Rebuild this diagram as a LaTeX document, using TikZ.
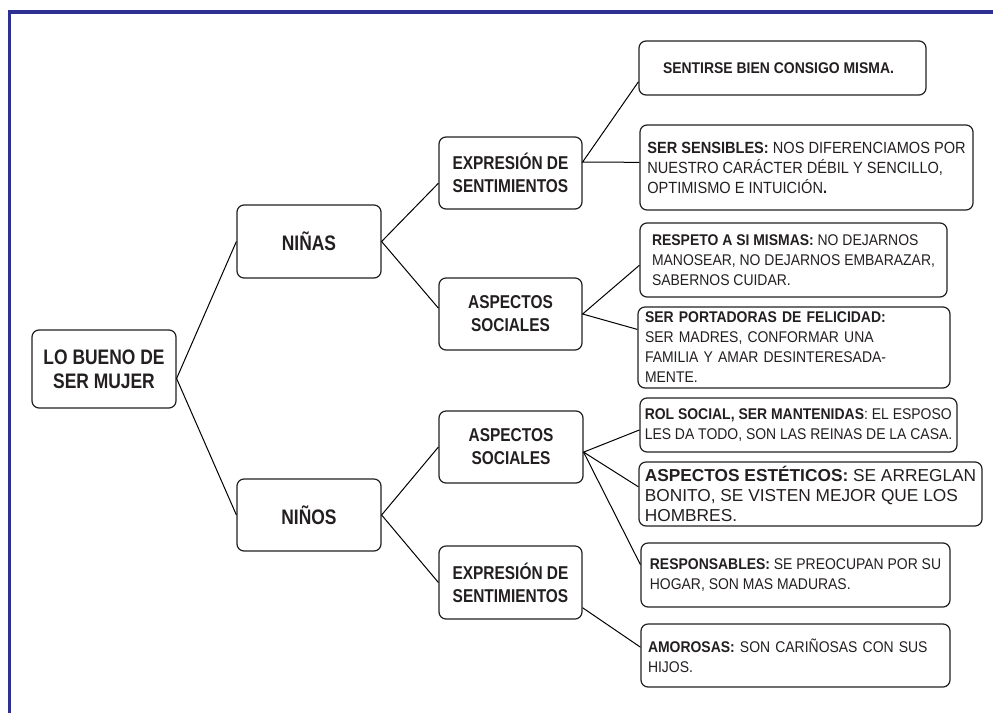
\documentclass[tikz,border=0pt]{standalone}
\usepackage{fontspec}
\setmainfont{Liberation Sans}
\newfontfamily\condfont[FakeStretch=0.83]{Liberation Sans}
\newfontfamily\leaffont[FakeStretch=0.9]{Liberation Sans}
\usetikzlibrary{calc}
\definecolor{frameblue}{HTML}{2E3192}
\definecolor{boxline}{HTML}{231F20}
\begin{document}
\begin{tikzpicture}[x=1pt,y=-1pt,
  box/.style={draw=boxline, line width=1.2pt, rounded corners=7pt, align=center, inner sep=0pt, text=boxline},
  head/.style={box, font=\condfont\bfseries\fontsize{21}{24}\selectfont},
  mid/.style={box, font=\condfont\bfseries\fontsize{18.6}{23}\selectfont},
  leaf/.style={box, align=left, font=\leaffont\fontsize{15.5}{20}\selectfont},
  leftleaf/.style={leaf, inner xsep=7pt},
  conn/.style={draw=black, line width=1pt}]
\useasboundingbox (0,0) rectangle (993,713);
\draw[frameblue, line width=3.8pt] (9.5,713) -- (9.5,11.7) -- (993,11.7);

% main nodes
\node[head, minimum width=144pt, minimum height=78pt] (root) at (104,369) {LO BUENO DE\\SER MUJER};
\node[head, minimum width=144pt, minimum height=73pt] (ninas) at (309,241.5) {NIÑAS};
\node[head, minimum width=144pt, minimum height=72pt] (ninos) at (309,515) {NIÑOS};
\node[mid, minimum width=143pt, minimum height=72pt] (expr1) at (510.5,173) {EXPRESIÓN DE\\SENTIMIENTOS};
\node[mid, minimum width=143pt, minimum height=72pt] (asp1) at (510.5,314) {ASPECTOS\\SOCIALES};
\node[mid, minimum width=144pt, minimum height=72pt] (asp2) at (511,447) {ASPECTOS\\SOCIALES};
\node[mid, minimum width=143pt, minimum height=73pt] (expr2) at (510.5,582.5) {EXPRESIÓN DE\\SENTIMIENTOS};

% leaves
\node[leaf, minimum width=287pt, minimum height=54pt] (l1) at (782.5,68) {\textbf{SENTIRSE BIEN CONSIGO MISMA.}\hspace*{8pt}};
\node[leaf, minimum width=333pt, minimum height=85pt, font=\leaffont\fontsize{16.2}{20}\selectfont] (l2) at (806.5,167.5) {\textbf{SER SENSIBLES:} NOS DIFERENCIAMOS POR\\NUESTRO CARÁCTER DÉBIL Y SENCILLO,\\OPTIMISMO E INTUICIÓN\textbf{.}};
\node[leaf, minimum width=307pt, minimum height=74pt] (l3) at (793.5,260) {\textbf{RESPETO A SI MISMAS:} NO DEJARNOS\\MANOSEAR, NO DEJARNOS EMBARAZAR,\\SABERNOS CUIDAR.};
\node[leftleaf, text width=298pt, minimum height=81pt] (l4) at (794,347.5) {\textbf{SER PORTADORAS DE FELICIDAD:}\\SER MADRES, CONFORMAR UNA\\FAMILIA Y AMAR DESINTERESADA-\\MENTE.};
\node[leaf, minimum width=317pt, minimum height=54pt] (l5) at (798.5,425) {\textbf{ROL SOCIAL, SER MANTENIDAS}: EL ESPOSO\\LES DA TODO, SON LAS REINAS DE LA CASA.};
\node[leaf, minimum width=343pt, minimum height=64pt, font=\fontsize{17.3}{20}\selectfont] (l6) at (810.5,494) {\textbf{ASPECTOS ESTÉTICOS:} SE ARREGLAN\\BONITO, SE VISTEN MEJOR QUE LOS\\HOMBRES.};
\node[leaf, minimum width=309pt, minimum height=64pt] (l7) at (795.5,575) {\textbf{RESPONSABLES:} SE PREOCUPAN POR SU\\HOGAR, SON MAS MADURAS.};
\node[leftleaf, text width=295pt, minimum height=63pt] (l8) at (795.5,655.5) {\textbf{AMOROSAS:} SON CARIÑOSAS CON SUS\\HIJOS.};

% connection points
\coordinate (rootE) at ($(root.north east)!0.62!(root.south east)$);
\coordinate (expr1W) at ($(expr1.north west)!0.64!(expr1.south west)$);
\coordinate (asp1W) at ($(asp1.north west)!0.42!(asp1.south west)$);
\coordinate (expr1E) at ($(expr1.north east)!0.35!(expr1.south east)$);
\coordinate (asp2E) at ($(asp2.north east)!0.57!(asp2.south east)$);
\coordinate (expr2E) at ($(expr2.north east)!0.84!(expr2.south east)$);
\coordinate (l1W) at ($(l1.north west)!0.75!(l1.south west)$);
\coordinate (l2W) at ($(l2.north west)!0.44!(l2.south west)$);
\coordinate (l3W) at ($(l3.north west)!0.57!(l3.south west)$);
\coordinate (l4W) at ($(l4.north west)!0.28!(l4.south west)$);
\coordinate (l5W) at ($(l5.north west)!0.59!(l5.south west)$);
\coordinate (l6W) at ($(l6.north west)!0.39!(l6.south west)$);
\coordinate (l7W) at ($(l7.north west)!0.34!(l7.south west)$);
\coordinate (l8W) at ($(l8.north west)!0.37!(l8.south west)$);

% connectors
\draw[conn] (ninas.west) -- (rootE) -- (ninos.west);
\draw[conn] (expr1W) -- (ninas.east) -- (asp1W);
\draw[conn] (asp2.west) -- (ninos.east) -- (expr2.west);
\draw[conn] (l1W) -- (expr1E) -- (l2W);
\draw[conn] (l3W) -- (asp1.east) -- (l4W);
\draw[conn] (l5W) -- (asp2E) -- (l6W);
\draw[conn] (asp2E) -- (l7W);
\draw[conn] (expr2E) -- (l8W);
\end{tikzpicture}
\end{document}
